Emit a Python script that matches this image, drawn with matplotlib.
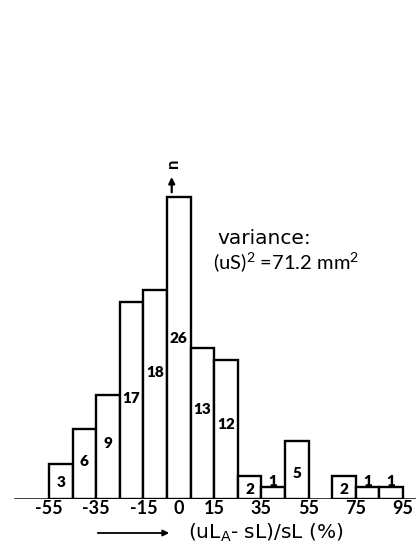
import matplotlib
matplotlib.use('Agg')
import matplotlib.pyplot as plt

plt.rcParams['font.family'] = ['Lato', 'DejaVu Sans']
plt.rcParams['mathtext.default'] = 'regular'

# histogram data: bin centres (%), counts
centers = [-50, -40, -30, -20, -10, 0, 10, 20, 30, 40, 50, 70, 80, 90]
counts = [3, 6, 9, 17, 18, 26, 13, 12, 2, 1, 5, 2, 1, 1]
tick_vals = [-55, -35, -15, 0, 15, 35, 55, 75, 95]
tick_labels = ['-55', '-35', '-15', '0', '15', '35', '55', '75', '95']

# where the count numbers sit (in count units)
label_y = [1.4, 3.2, 4.8, 8.7, 10.9, 13.8, 7.7, 6.4, 0.85, 1.5, 2.2, 0.85, 1.5, 1.5]

W, H = 416, 546
fig = plt.figure(figsize=(W / 100, H / 100), dpi=100)
base_px = 499          # baseline, pixels from top
px_unit = 2.36         # pixels per % on x
px_count = 11.6        # pixels per count
ax = fig.add_axes([0, (H - base_px) / H, 1, base_px / H])
x0 = -55 - 49 / px_unit
ax.set_xlim(x0, x0 + W / px_unit)
ax.set_ylim(0, base_px / px_count)

ax.bar(centers, counts, width=10, facecolor='white', edgecolor='black', linewidth=1.7)

for c, n, ly in zip(centers, counts, label_y):
    ax.text(c, ly, str(n), ha='center', va='center', fontsize=11, fontweight='heavy')

for s in ['top', 'right', 'left', 'bottom']:
    ax.spines[s].set_visible(False)
ax.axhline(0, xmin=15 / W, xmax=1, color='black', linewidth=1.8)
ax.set_yticks([])
ax.set_xticks(tick_vals)
ax.set_xticklabels(tick_labels, fontsize=13, fontweight='bold')
ax.tick_params(axis='x', length=0, pad=0.5)

# n arrow above the tallest bar
ax.annotate('', xy=(-3, 28.0), xytext=(-3, 26.2),
            arrowprops=dict(arrowstyle='-|>', color='black', lw=1.6, mutation_scale=9))
ax.text(-2.5, 28.9, 'n', rotation=90, ha='center', va='center', fontsize=12, fontweight='bold')

ax.text(16.2, 22.5, 'variance:', ha='left', va='center', fontsize=14.5, family='DejaVu Sans')
ax.text(14.5, 20.4, '(uS)$^2$ =71.2 mm$^2$', ha='left', va='center', fontsize=14.5)

# x label with arrow
ylab = 1 - 533 / H
fig.text(266 / W, ylab, '(uL$_A$- sL)/sL (%)', ha='center', va='center',
         fontsize=14.5, family='DejaVu Sans')
fig.add_artist(matplotlib.patches.FancyArrowPatch((95 / W, ylab), (172 / W, ylab),
                                                  transform=fig.transFigure, arrowstyle='-|>',
                                                  mutation_scale=9, color='black', lw=1.3))

fig.savefig('out.png', dpi=100)
